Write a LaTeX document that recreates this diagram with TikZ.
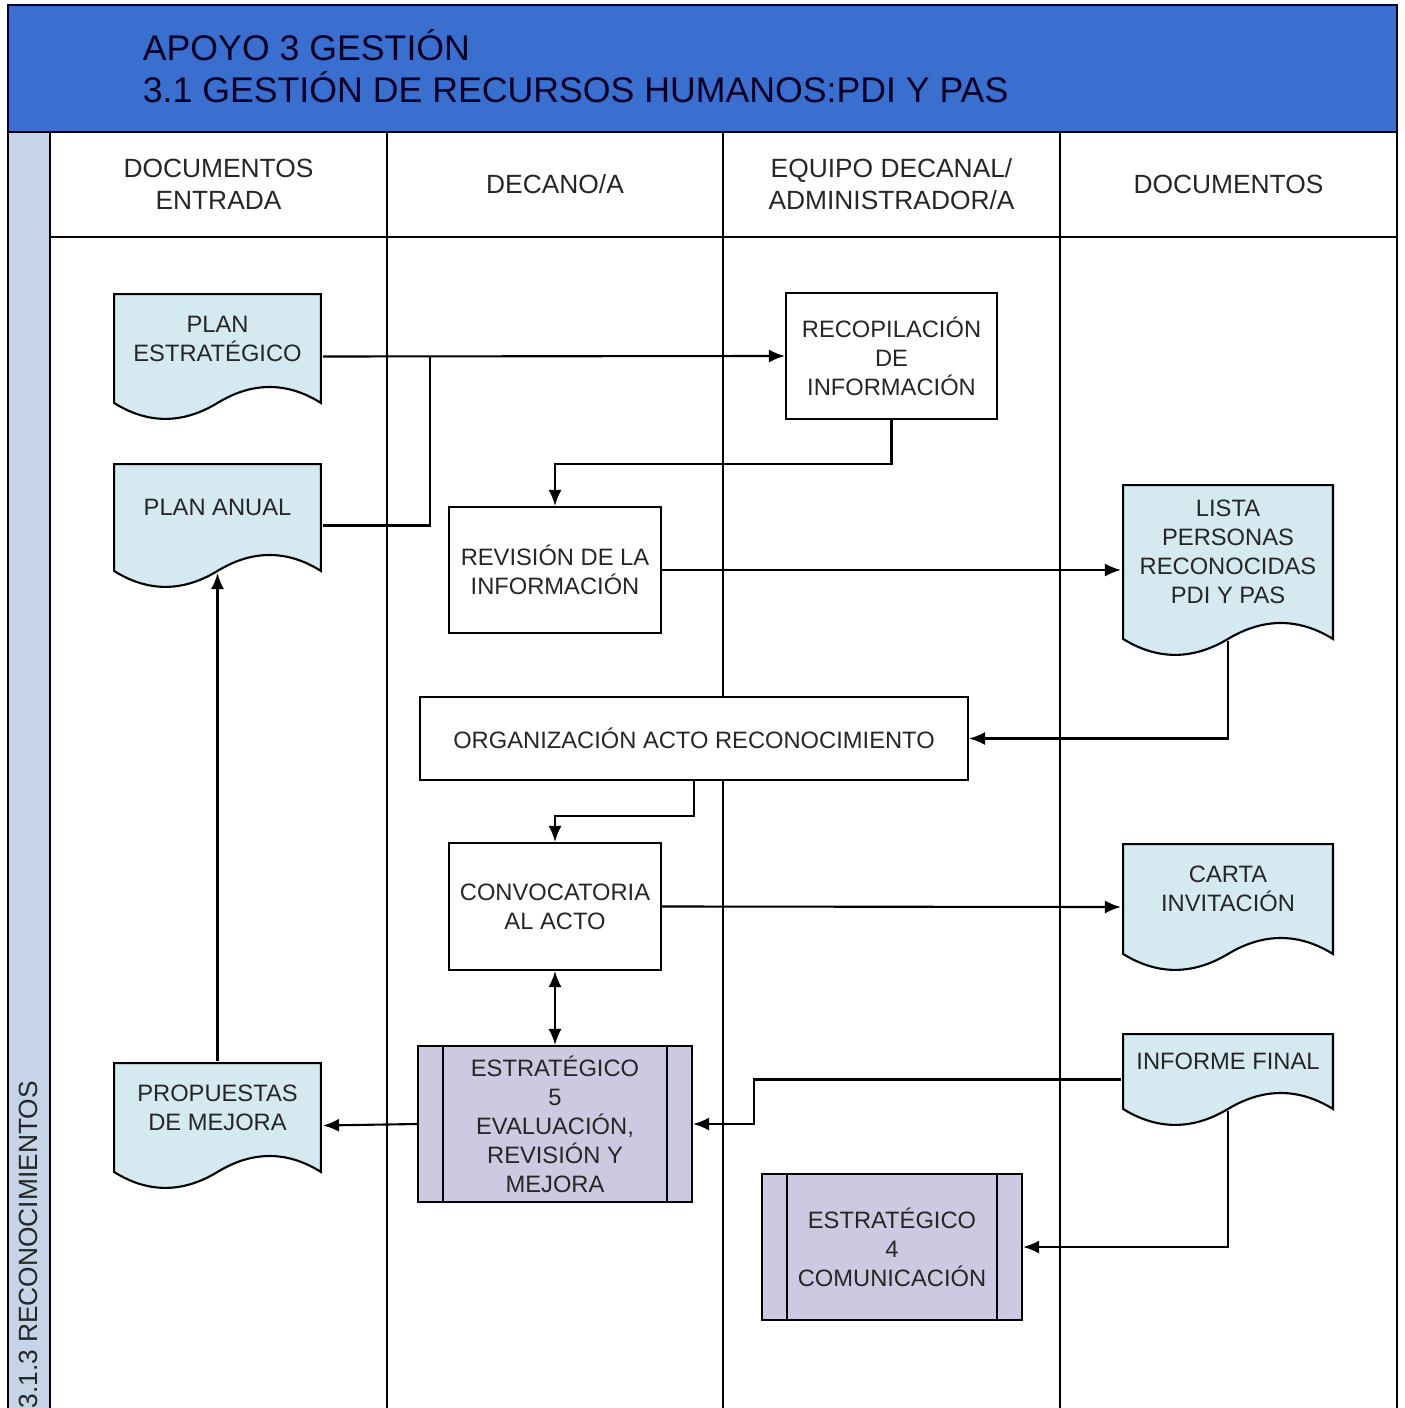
\documentclass[tikz,border=0pt]{standalone}
\usepackage{fontspec}
\setmainfont{Liberation Sans}
\usetikzlibrary{arrows.meta,calc}
\definecolor{titleblue}{HTML}{3A6FCF}
\definecolor{stripblue}{HTML}{C6D4E8}
\definecolor{docblue}{HTML}{D4E9F0}
\definecolor{lila}{HTML}{CEC8E0}
\definecolor{txt}{HTML}{262626}

\begin{document}
\begin{tikzpicture}[x=0.02cm,y=-0.02cm,line width=1.2pt,
    font=\fontsize{13.5}{16.5}\selectfont,text=txt,
    lanehead/.style={align=center,font=\fontsize{15}{18}\selectfont},
    proceso/.style={rectangle,draw,fill=white,align=center,inner sep=2pt},
    subproc/.style={rectangle,draw,fill=lila,align=center,inner sep=2pt,
      path picture={\draw ([xshift=.5cm]path picture bounding box.north west) -- ([xshift=.5cm]path picture bounding box.south west)
        ([xshift=-.5cm]path picture bounding box.north east) -- ([xshift=-.5cm]path picture bounding box.south east);}},
    docu/.style={rectangle,align=center,inner sep=2pt,text depth=0.72cm,
      path picture={\filldraw[fill=docblue] let \p1=(path picture bounding box.north west),
        \p2=(path picture bounding box.south east), \n1={(\x2-\x1)/6}, \n2={\y2+9.7pt} in
        ({\x1+.6pt},{\y1-.6pt}) -- ({\x2-.6pt},{\y1-.6pt}) -- ({\x2-.6pt},{\n2*1pt})
        .. controls ({\x2-\n1*1pt},{\n2*1pt+12.1pt}) and ({\x2-2*\n1*1pt},{\n2*1pt+12.1pt}) .. ({(\x1+\x2)/2},{\n2*1pt})
        .. controls ({\x1+2*\n1*1pt},{\n2*1pt-12.1pt}) and ({\x1+\n1*1pt},{\n2*1pt-12.1pt}) .. ({\x1+.6pt},{\n2*1pt}) -- cycle;}},
    arr/.style={-{Latex[length=0.32cm,width=0.26cm]}}]
  \useasboundingbox (0,0) rectangle (1404,1408);
  \clip (0,0) rectangle (1404,1408);

  % marco y carriles
  \draw[fill=titleblue,draw=black!80!blue] (8,5) rectangle (1397,132);
  \node[anchor=base west,align=left,font=\fontsize{20.3}{24.4}\selectfont,text=black!85!blue] (titulo) at (136,103)
    {APOYO 3 GESTIÓN\\3.1 GESTIÓN DE RECURSOS HUMANOS:PDI Y PAS};
  \draw[fill=stripblue] (8,132) rectangle (50,1420);
  \node[rotate=90,anchor=east,inner sep=0pt,font=\fontsize{15}{18}\selectfont] (proceso) at (28,1080) {3.1.3 RECONOCIMIENTOS};
  \draw (50,132) rectangle (1397,237);
  \foreach \x in {387,723,1060,1397}
    \draw (\x,132) -- (\x,1420);

  \node[lanehead] (h1) at (218.5,184) {DOCUMENTOS\\ENTRADA};
  \node[lanehead] (h2) at (555,184) {DECANO/A};
  \node[lanehead] (h3) at (891.5,184) {EQUIPO DECANAL/\\ADMINISTRADOR/A};
  \node[lanehead] (h4) at (1228.5,184) {DOCUMENTOS};

  % documentos
  \node[docu,minimum width=4.18cm,minimum height=2.54cm] (planest) at (217.5,356.5) {PLAN\\ESTRATÉGICO};
  \node[docu,minimum width=4.18cm,minimum height=2.5cm] (planan) at (217.5,525.5) {PLAN ANUAL};
  \node[docu,minimum width=4.24cm,minimum height=3.44cm] (lista) at (1228,570) {LISTA\\PERSONAS\\RECONOCIDAS\\PDI Y PAS};
  \node[docu,minimum width=4.24cm,minimum height=2.56cm] (carta) at (1228,907) {CARTA\\INVITACIÓN};
  \node[docu,minimum width=4.24cm,minimum height=1.86cm] (informe) at (1228,1079.5) {INFORME FINAL};
  \node[docu,minimum width=4.18cm,minimum height=2.54cm] (propuestas) at (217.5,1125.5) {PROPUESTAS\\DE MEJORA};

  % actividades
  \node[proceso,minimum width=4.22cm,minimum height=2.52cm] (recop) at (891.5,356) {RECOPILACIÓN\\DE\\INFORMACIÓN};
  \node[proceso,minimum width=4.24cm,minimum height=2.52cm] (revis) at (555,570) {REVISIÓN DE LA\\INFORMACIÓN};
  \node[proceso,minimum width=10.96cm,minimum height=1.66cm] (organ) at (694,738.5) {ORGANIZACIÓN ACTO RECONOCIMIENTO};
  \node[proceso,minimum width=4.24cm,minimum height=2.54cm] (convo) at (555,906.5) {CONVOCATORIA\\AL ACTO};
  \node[subproc,minimum width=5.48cm,minimum height=3.12cm] (estr5) at (555,1124) {ESTRATÉGICO\\5\\EVALUACIÓN,\\REVISIÓN Y\\MEJORA};
  \node[subproc,minimum width=5.2cm,minimum height=2.92cm] (estr4) at (892,1247) {ESTRATÉGICO\\4\\COMUNICACIÓN};

  % conexiones
  \coordinate (j1) at (430,356.5);
  \draw[arr] (planest.east) -- (recop.west);
  \draw (planan.east) -| (j1);
  \draw[arr] (recop.south) -- ++(0,44) -| (revis.north);
  \draw[arr] (revis.east) -- (lista.west);
  \draw[arr] ([yshift=.32cm]lista.south) |- (organ.east);
  \draw[arr] (organ.south) -- ++(0,35) -| (convo.north);
  \draw[arr] (convo.east) -- (carta.west);
  \draw[{Latex[length=0.32cm,width=0.26cm]}-{Latex[length=0.32cm,width=0.26cm]}] (convo.south) -- (estr5.north);
  \draw[arr] (estr5.west) -- (propuestas.east);
  \draw[arr] (propuestas.north) -- ([yshift=.32cm]planan.south);
  \draw[arr] (informe.west) -- ++(-367,0) |- (estr5.east);
  \draw[arr] ([yshift=.32cm]informe.south) |- (estr4.east);
\end{tikzpicture}
\end{document}
